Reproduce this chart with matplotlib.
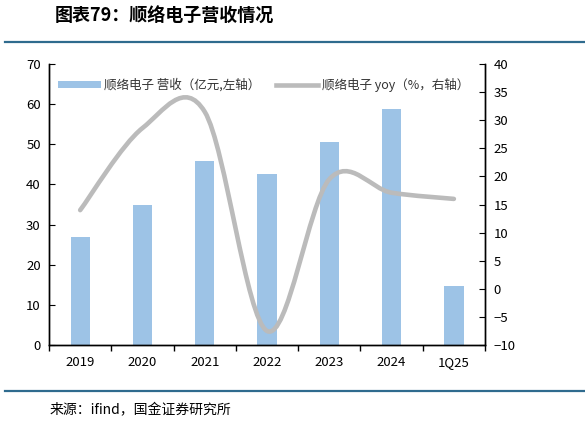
import numpy as np
import matplotlib
matplotlib.use('Agg')
import matplotlib.pyplot as plt
from matplotlib.path import Path
from matplotlib.patches import PathPatch, Patch
from matplotlib.lines import Line2D

plt.rcParams['font.family'] = ['Noto Sans CJK SC', 'DejaVu Sans']

# data
categories = ['2019', '2020', '2021', '2022', '2023', '2024', '1Q25']
revenue = [26.9, 34.8, 45.8, 42.6, 50.5, 58.9, 14.7]     # 亿元, left axis
yoy = [14.0, 28.6, 31.5, -7.5, 19.5, 17.1, 16.0]         # %, right axis

bar_color = '#9DC3E6'
line_color = '#BBBBBB'


def smooth_path(xs, ys):
    # Excel-style smoothed line: cubic Bezier through each point (Catmull-Rom)
    pts = np.column_stack([xs, ys]).astype(float)
    n = len(pts)
    verts = [pts[0]]
    codes = [Path.MOVETO]
    for i in range(n - 1):
        p0 = pts[i - 1] if i > 0 else pts[i]
        p1 = pts[i]
        p2 = pts[i + 1]
        p3 = pts[i + 2] if i + 2 < n else pts[i + 1]
        c1 = p1 + (p2 - p0) / 6.0
        c2 = p2 - (p3 - p1) / 6.0
        verts += [c1, c2, p2]
        codes += [Path.CURVE4] * 3
    return Path(verts, codes)


fig = plt.figure(figsize=(5.85, 4.24), dpi=100)
ax = fig.add_axes([0.0838, 0.1863, 0.7453, 0.6627])
ax2 = ax.twinx()

x = np.arange(len(categories))
ax.bar(x, revenue, width=0.31, color=bar_color, zorder=2)

ax2.add_patch(PathPatch(smooth_path(x, yoy), facecolor='none',
                        edgecolor=line_color, lw=3.3, capstyle='round', zorder=3))

ax.set_xlim(-0.5, len(categories) - 0.5)
ax.set_ylim(0, 70)
ax.set_yticks(range(0, 71, 10))
ax2.set_ylim(-10, 40)
ax2.set_yticks(range(-10, 41, 5))

ax.set_xticks(x)
ax.set_xticklabels(categories)
ax.set_xticks(np.arange(-0.5, len(categories), 1), minor=True)
ax.tick_params(axis='x', which='major', length=0, pad=8, labelsize=9.5)
ax.tick_params(axis='x', which='minor', length=4, direction='out', width=1)
ax.tick_params(axis='y', direction='in', length=4, labelsize=9.5, pad=6)
ax2.tick_params(axis='y', direction='in', length=4, labelsize=9.5, pad=6)

for a in (ax, ax2):
    a.spines['top'].set_visible(False)
    for s in ('left', 'right', 'bottom'):
        a.spines[s].set_linewidth(1.0)
        a.spines[s].set_color('black')

handles = [Patch(facecolor=bar_color, edgecolor='none'),
           Line2D([], [], color=line_color, lw=3.3)]
labels = ['顺络电子 营收（亿元,左轴）', '顺络电子 yoy（%，右轴）']
ax2.legend(handles, labels, loc='upper left', bbox_to_anchor=(-0.005, 0.99),
           ncol=2, frameon=False, fontsize=9, handlelength=3.4,
           handleheight=0.5, columnspacing=1.2, handletextpad=0.3,
           labelcolor='#333333')

# header / footer decoration
fig.text(0.094, 0.962, '图表79：顺络电子营收情况', fontsize=13, fontweight='bold',
         style='italic', va='center', ha='left')
fig.add_artist(Line2D([0.009, 1.0], [0.902, 0.902], color='#2F6B8E', lw=1.6))
fig.add_artist(Line2D([0.009, 1.0], [0.078, 0.078], color='#2F6B8E', lw=1.6))
fig.text(0.085, 0.033, '来源：ifind，国金证券研究所', fontsize=10, va='center', ha='left')

fig.savefig('out.png', dpi=100)
